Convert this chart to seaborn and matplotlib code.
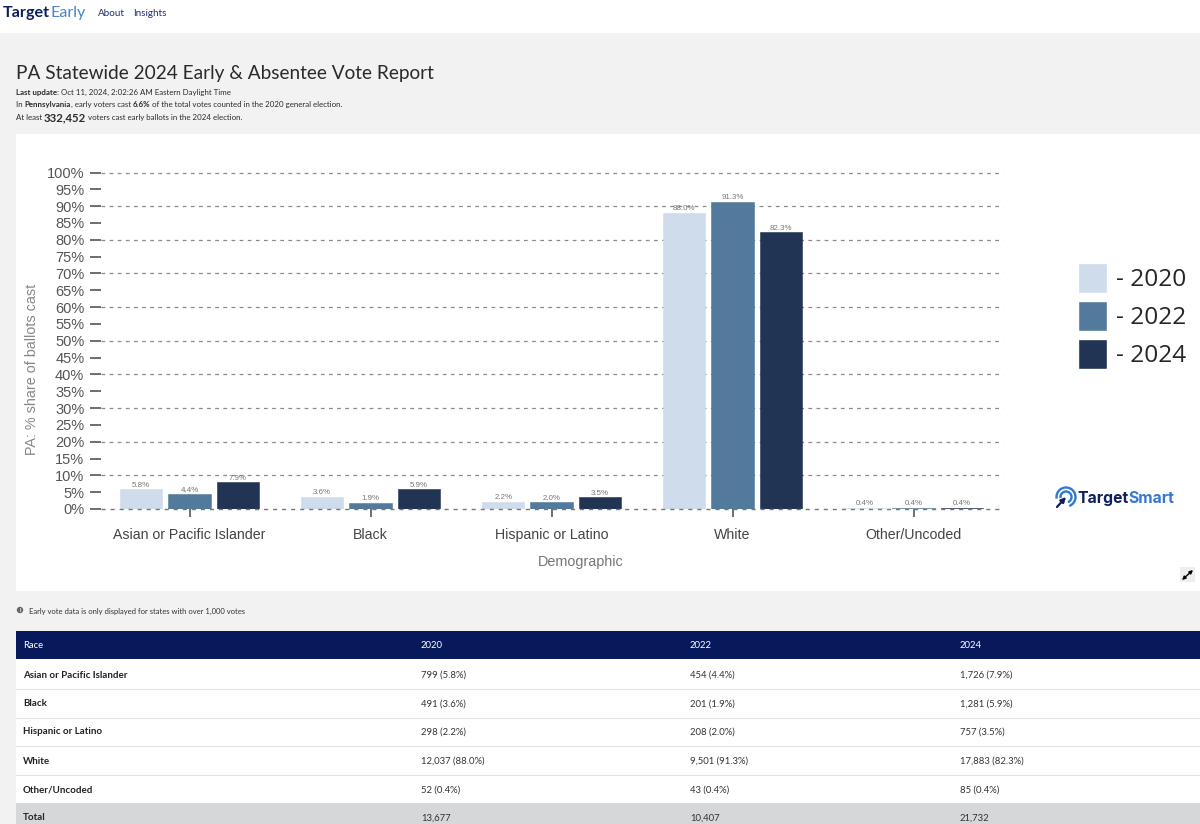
import matplotlib
matplotlib.use("Agg")
import matplotlib.pyplot as plt
from matplotlib.patches import Rectangle, Arc, Circle
import pandas as pd
import seaborn as sns

# values
races = ["Asian or Pacific Islander", "Black", "Hispanic or Latino", "White", "Other/Uncoded"]
years = ["2020", "2022", "2024"]
share_2020 = [5.8, 3.6, 2.2, 88.0, 0.4]
share_2022 = [4.4, 1.9, 2.0, 91.3, 0.4]
share_2024 = [7.9, 5.9, 3.5, 82.3, 0.4]
count_2020 = [799, 491, 298, 12037, 52]
count_2022 = [454, 201, 208, 9501, 43]
count_2024 = [1726, 1281, 757, 17883, 85]
totals = [13677, 10407, 21732]
y_ticks = list(range(0, 101, 5))
colors = ["#cfdcec", "#527a9c", "#223453"]

W, H = 1200, 824
PAGE_FONT = "Lato"

sns.set_theme(style="white")
plt.rcParams["font.family"] = "Liberation Sans"

df = pd.DataFrame({
    "race": races * 3,
    "year": [y for y in years for _ in races],
    "share": share_2020 + share_2022 + share_2024,
})

fig = plt.figure(figsize=(W / 100, H / 100), dpi=100, facecolor="#f2f2f2")

# page layer in pixel coordinates
page = fig.add_axes([0, 0, 1, 1], zorder=0)
page.set_xlim(0, W)
page.set_ylim(H, 0)
page.axis("off")


def box(x0, y0, x1, y1, color, z=1):
    page.add_patch(Rectangle((x0, y0), x1 - x0, y1 - y0, color=color, lw=0, zorder=z))


def txt(x, y, s, size=7, color="#333333", weight="normal", family=PAGE_FONT, **kw):
    return page.text(x, y, s, fontsize=size, color=color, fontweight=weight,
                     family=family, va="center_baseline", zorder=5, **kw)


def runs(x, y, parts):
    """several pieces of text on one line, each starting where the last ended"""
    rend = fig.canvas.get_renderer()
    for s, size, weight in parts:
        t = txt(x, y, s, size=size, weight=weight, color="#2b2b2b")
        x = page.transData.inverted().transform(t.get_window_extent(rend))[1][0]


box(0, 0, W, 33, "white")
box(16, 134, W, 591, "white")

# nav bar
t1 = txt(3, 11.5, "Target", size=11.6, weight="bold", color="#0b1f5c")
rend = fig.canvas.get_renderer()
x_end = page.transData.inverted().transform(t1.get_window_extent(rend))[1][0]
txt(x_end, 11.5, "Early", size=11.6, color="#4a86c8")
txt(98, 12, "About", size=7.1, color="#1e2f78")
txt(133.5, 12, "Insights", size=7.1, color="#1e2f78")

# heading
txt(16, 72, "PA Statewide 2024 Early & Absentee Vote Report", size=13.7, color="#2a2a2a")
runs(16, 92, [("Last update: ", 5.7, "bold"),
              ("Oct 11, 2024, 2:02:26 AM Eastern Daylight Time", 5.7, "normal")])
runs(16, 104, [("In ", 5.7, "normal"), ("Pennsylvania", 5.7, "bold"),
               (", early voters cast ", 5.7, "normal"), ("6.6%", 5.7, "bold"),
               (" of the total votes counted in the 2020 general election.", 5.7, "normal")])
runs(16, 117, [("At least ", 5.7, "normal"), ("332,452", 8.2, "bold"),
               (" voters cast early ballots in the 2024 election.", 5.7, "normal")])

# chart
ax_left, ax_right, ax_top, ax_bottom = 101, 1003, 172.5, 509
first_x, step_x = 189.5, 181
ax = fig.add_axes([ax_left / W, 1 - ax_bottom / H, (ax_right - ax_left) / W, (ax_bottom - ax_top) / H],
                  zorder=2)
ax.patch.set_alpha(0)
sns.barplot(data=df, x="race", y="share", hue="year", palette=colors, saturation=1,
            width=0.8, gap=0.12, ax=ax)
for c, col in zip(ax.containers, colors):
    for p in c:
        p.set_edgecolor(col)
        p.set_linewidth(0.4)
ax.set_xlim((ax_left - first_x) / step_x, (ax_right - first_x) / step_x)
ax.set_ylim(0, 100)
sns.despine(ax=ax, left=True, bottom=True)
ax.set_yticks(y_ticks)
ax.set_yticklabels([f"{v}%" for v in y_ticks])
ax.tick_params(axis="y", length=8, width=1.2, color="#555555", left=True, pad=4,
               labelsize=10.5, labelcolor="#555555")
ax.tick_params(axis="x", length=6, width=1.2, color="#555555", bottom=True, pad=7.5,
               labelsize=10.2, labelcolor="#444444")
for v in y_ticks[2::2]:
    ax.axhline(v, color="#8a8a8a", lw=0.9, ls=(0, (3, 3.5)), zorder=0.5, clip_on=False)
ax.axhline(0, color="#777777", lw=1, ls=(0, (3, 3.5)), zorder=4, clip_on=False)
for c in ax.containers:
    ax.bar_label(c, fmt="%.1f%%", fontsize=5.7, color="#777777", padding=0.3)
ax.set_ylabel("PA: % share of ballots cast", fontsize=10.4, color="#888888")
ax.yaxis.set_label_coords((39 - ax_left) / (ax_right - ax_left), 0.415)
ax.set_xlabel("Demographic", fontsize=10.4, color="#777777")
ax.xaxis.set_label_coords((581 - ax_left) / (ax_right - ax_left), -0.138)

# legend
handles, labels = ax.get_legend_handles_labels()
ax.get_legend().remove()
fig.legend(handles, [f"- {y}" for y in labels], loc="center left",
           bbox_to_anchor=(1078 / W, 1 - 316 / H), frameon=False, prop={"family": "Open Sans", "size": 17.6},
           handlelength=1.19, handleheight=1.5, handletextpad=0.37, labelspacing=0.32, borderpad=0,
           borderaxespad=0)

# TargetSmart logo
for r in (9.5, 5.5):
    page.add_patch(Arc((1066, 497), r * 2, r * 2, theta1=-190, theta2=70, color="#2f79d0", lw=1.7, zorder=4))
page.annotate("", xy=(1066, 497), xytext=(1057, 507),
              arrowprops=dict(arrowstyle="-|>", color="#0b1f5c", lw=1.6, mutation_scale=7,
                              shrinkA=0, shrinkB=0), zorder=5)
t2 = txt(1077, 497, "Target", size=11.3, weight="bold", color="#0f1f5a", family="Inter")
x_end = page.transData.inverted().transform(t2.get_window_extent(rend))[1][0]
txt(x_end, 497, "Smart", size=11.3, weight="bold", color="#3578d4", family="Inter")

# expand button
box(1180, 567, 1195, 582, "#eeeeee", z=2)
page.annotate("", xy=(1193, 570), xytext=(1182, 580),
              arrowprops=dict(arrowstyle="<|-|>", color="black", lw=1, mutation_scale=5,
                              shrinkA=0, shrinkB=0), zorder=5)

# note
page.add_patch(Circle((20, 610), 3.2, color="#666666", lw=0, zorder=3))
txt(20, 610, "i", size=4, color="white", weight="bold", ha="center")
txt(29, 610.5, "Early vote data is only displayed for states with over 1,000 votes", size=5.5)

# table
col_x = [23, 421, 690, 960]
row_y = [674, 703, 731, 760, 789]
box(16, 631, W, 659, "#07195a")
box(16, 659, W, 803, "white")
box(16, 803, W, 824, "#d6d7d9")
for yy in [688.5, 717.5, 745.5, 774.5]:
    page.plot([16, W], [yy, yy], color="#e4e4e4", lw=0.8, zorder=2)
for x, s in zip(col_x, ["Race"] + years):
    txt(x, 645, s, size=6.8, color="white")
for i, r in enumerate(races):
    txt(col_x[0], row_y[i], r, size=7, weight="bold", color="#222222")
    txt(col_x[1], row_y[i], f"{count_2020[i]:,} ({share_2020[i]:.1f}%)", size=6.8)
    txt(col_x[2], row_y[i], f"{count_2022[i]:,} ({share_2022[i]:.1f}%)", size=6.8)
    txt(col_x[3], row_y[i], f"{count_2024[i]:,} ({share_2024[i]:.1f}%)", size=6.8)
txt(col_x[0], 817, "Total", size=7, weight="bold", color="#222222")
for x, v in zip(col_x[1:], totals):
    txt(x, 817, f"{v:,}", size=6.8)

fig.savefig("out.png", dpi=100, facecolor=fig.get_facecolor())
